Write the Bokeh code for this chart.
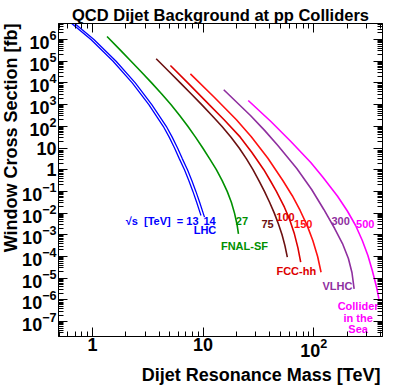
from bokeh.plotting import figure
from bokeh.models import (Range1d, LogAxis, FixedTicker, LogTickFormatter, ColumnDataSource,
                          CustomJSTickFormatter, Title)
from bokeh.core.properties import value
from bokeh.embed import file_html
from bokeh.resources import INLINE

# ---- data (dijet mass in TeV, window cross section in fb) ----
lhc13_mass = [0.650, 0.970, 1.538, 2.291, 3.236, 4.365, 4.943, 5.521, 6.109, 6.792, 7.430,
              8.091, 8.750, 9.419, 9.572]
lhc13_xsec = [5.5e6, 1.0e6, 1.0e5, 1.0e4, 1.0e3, 1.0e2, 31.6, 10.0, 3.16, 1.0, 0.316,
              0.1, 0.0316, 0.01, 7.76e-3]

lhc14_mass = [0.692, 1.032, 1.637, 2.44, 3.44, 4.65, 5.26, 5.88, 6.50, 7.23, 7.91,
              8.61, 9.31, 10.02, 10.3]
lhc14_xsec = [5.5e6, 1.0e6, 1.0e5, 1.0e4, 1.0e3, 1.0e2, 31.6, 10.0, 3.16, 1.0, 0.316,
              0.1, 0.0316, 0.01, 6.5e-3]

fnal27_mass = [1.356, 1.798, 2.235, 2.771, 3.429, 4.212, 5.119, 6.146, 7.280, 8.542, 9.938,
               11.48, 13.18, 14.88, 16.52, 18.01, 19.23, 20.23, 20.88]
fnal27_xsec = [1.37e6, 3.16e5, 1.0e5, 3.16e4, 1.0e4, 3.16e3, 1.0e3, 316, 100, 31.6, 10.0,
               3.16, 1.0, 0.316, 0.1, 0.0316, 0.01, 3.16e-3, 1.11e-3]

fcc75_mass = [3.77, 4.97, 6.225, 7.785, 9.714, 12.02, 14.77, 17.89, 21.19, 24.66, 28.23,
              31.95, 35.85, 39.89, 44.01, 47.97, 51.71, 54.90, 57.70]
fcc75_xsec = [1.29e5, 3.16e4, 1.0e4, 3.16e3, 1.0e3, 316, 100, 31.6, 10.0, 3.16, 1.0,
              0.316, 0.1, 0.0316, 0.01, 3.16e-3, 1.0e-3, 3.16e-4, 9.3e-5]

fcc100_mass = [5.07, 7.278, 11.35, 15.49, 21.68, 27.52, 35.37, 40.41, 45.95, 54.33, 60.62,
               66.83, 71.96, 76.2]
fcc100_xsec = [6.34e4, 1.0e4, 1.0e3, 200, 31.6, 6.4, 1.0, 0.318, 0.1, 0.0187, 5.0e-3,
               1.11e-3, 2.51e-4, 5.46e-5]

fcc150_mass = [7.68, 12.62, 20.01, 27.16, 38.38, 52.55, 63.99, 75.34, 87.63, 98.08, 108.4, 116.4]
fcc150_xsec = [2.62e4, 2.19e3, 200, 33.9, 3.46, 0.318, 0.0631, 0.0132, 2.51e-3, 5.46e-4,
               1.0e-4, 1.89e-5]

vlhc300_mass = [15.37, 26.81, 36.12, 47.4, 70.27, 95.72, 123.3, 154.6, 181.8, 205.6, 221.4, 231.7]
vlhc300_xsec = [4.81e3, 315, 63.1, 13.0, 1.14, 0.122, 0.0147, 1.95e-3, 3.97e-4, 8.09e-5,
                1.83e-5, 3.25e-6]

sea500_mass = [25.6, 41.0, 62.1, 94.0, 120.5, 163.5, 201.2, 239.0, 274.6, 308.5, 338.0, 369.5, 387.6]
sea500_xsec = [1.55e3, 166, 20.0, 2.15, 0.461, 0.0614, 0.0125, 2.69e-3, 5.46e-4, 1.11e-4,
               2.26e-5, 3.85e-6, 1.12e-6]

# annotation texts
label_text = ["√s\u00a0\u00a0[TeV]\u00a0\u00a0=\u00a013", "14", "LHC", "27", "FNAL-SF", "75", "100",
              "150", "FCC-hh", "300", "500", "VLHC", "Collider\nin the\nSea"]
label_mass = [4.27, 11.44, 10.41, 22.45, 23.65, 38.3, 55.6, 80.4, 69.5, 175, 292, 163.5, 251.7]
label_xsec = [4.33e-3, 4.56e-3, 1.58e-3, 4.56e-3, 3.21e-4, 2.99e-3, 6.47e-3, 2.99e-3,
              2.04e-5, 4.24e-3, 3.21e-3, 4.15e-6, 1.5e-7]

TITLE = "QCD Dijet Background at pp Colliders"
X_TITLE = "Dijet Resonance Mass [TeV]"
Y_TITLE = "Window Cross Section [fb]"

# axis ticks
x_major = [1, 10, 100]
x_minor = [0.5, 0.6, 0.7, 0.8, 0.9, 2, 3, 4, 5, 6, 7, 8, 9,
           20, 30, 40, 50, 60, 70, 80, 90, 200, 300, 400]
y_exponents = list(range(-7, 7))
y_major = [10.0 ** e for e in y_exponents]
y_minor = [k * 10.0 ** e for e in range(-8, 7) for k in range(2, 10)]

# ---- styles ----
BLUE = "#0000ff"
GREEN = "#009000"
BROWN = "#6b1010"
RED1 = "#dd0000"
RED2 = "#ff1010"
PURPLE = "#8f2f9f"
MAGENTA = "#ff00ff"
label_color = [BLUE, BLUE, BLUE, GREEN, GREEN, BROWN, RED1, RED2, RED1, PURPLE, MAGENTA, PURPLE, MAGENTA]
FONT = "Liberation Sans"

p = figure(width=407, height=391, x_axis_type="log", y_axis_type="log",
           x_range=Range1d(0.494, 418), y_range=Range1d(2.06e-8, 5.46e6),
           output_backend="svg", toolbar_location=None,
           min_border_left=57, min_border_right=25, min_border_top=23, min_border_bottom=55,
           title=TITLE)

p.background_fill_color = "white"
p.border_fill_color = "white"
p.outline_line_color = "black"
p.outline_line_width = 1
p.xgrid.visible = False
p.ygrid.visible = False

p.title.text_font = FONT
p.title.text_font_style = "bold"
p.title.text_font_size = "16.5px"
p.title.text_color = "black"
p.title.align = "center"
p.title.standoff = 0


def style_axis(ax, labels=True):
    ax.major_tick_in = 9
    ax.major_tick_out = 0
    ax.minor_tick_in = 5
    ax.minor_tick_out = 0
    ax.major_tick_line_color = "black"
    ax.minor_tick_line_color = "black"
    ax.axis_line_color = "black"
    if labels:
        ax.major_label_text_font = FONT
        ax.major_label_text_font_style = "bold"
        ax.major_label_text_font_size = "18px"
        ax.major_label_text_color = "black"
    else:
        ax.formatter = CustomJSTickFormatter(code="return ''")
        ax.major_label_text_font_size = "1px"
        ax.major_label_text_alpha = 0
        ax.major_label_standoff = 0


xax = p.below[0]
yax = p.left[0]
xax.ticker = FixedTicker(ticks=x_major, minor_ticks=x_minor)
yax.ticker = FixedTicker(ticks=y_major, minor_ticks=y_minor)
xax.formatter = LogTickFormatter(min_exponent=1)
yax.formatter = LogTickFormatter(min_exponent=1)
xax.major_label_overrides = {10: "10"}
yax.major_label_overrides = {10: "10"}
style_axis(xax)
style_axis(yax)
xax.major_label_standoff = 1
yax.major_label_standoff = 2

top_ax = LogAxis(ticker=FixedTicker(ticks=x_major, minor_ticks=x_minor))
right_ax = LogAxis(ticker=FixedTicker(ticks=y_major, minor_ticks=y_minor))
style_axis(top_ax, labels=False)
style_axis(right_ax, labels=False)
p.add_layout(top_ax, "above")
p.add_layout(right_ax, "right")

# axis titles, flush with the frame end as in ROOT
x_title = Title(text=X_TITLE, align="right", offset=2, standoff=6, text_font=FONT,
                text_font_style="bold", text_font_size="18px", text_color="black")
y_title = Title(text=Y_TITLE, align="right", offset=0, standoff=-3, text_font=FONT,
                text_font_style="bold", text_font_size="18px", text_color="black")
p.add_layout(x_title, "below")
p.add_layout(y_title, "left")

# ---- curves ----
p.line(lhc13_mass, lhc13_xsec, line_color=BLUE, line_width=1.3)
p.line(lhc14_mass, lhc14_xsec, line_color=BLUE, line_width=1.3)
p.line(fnal27_mass, fnal27_xsec, line_color=GREEN, line_width=1.6)
p.line(fcc75_mass, fcc75_xsec, line_color=BROWN, line_width=1.6)
p.line(fcc100_mass, fcc100_xsec, line_color=RED1, line_width=1.6)
p.line(fcc150_mass, fcc150_xsec, line_color=RED2, line_width=1.6)
p.line(vlhc300_mass, vlhc300_xsec, line_color=PURPLE, line_width=1.6)
p.line(sea500_mass, sea500_xsec, line_color=MAGENTA, line_width=1.6)

src = ColumnDataSource(dict(x=label_mass, y=label_xsec, text=label_text, color=label_color))
p.text(x="x", y="y", text="text", source=src, text_color="color",
       text_font=value(FONT), text_font_style="bold", text_font_size="11px",
       text_align="center", text_baseline="middle", text_line_height=0.95)

open("out.html", "w").write(file_html(p, INLINE))
